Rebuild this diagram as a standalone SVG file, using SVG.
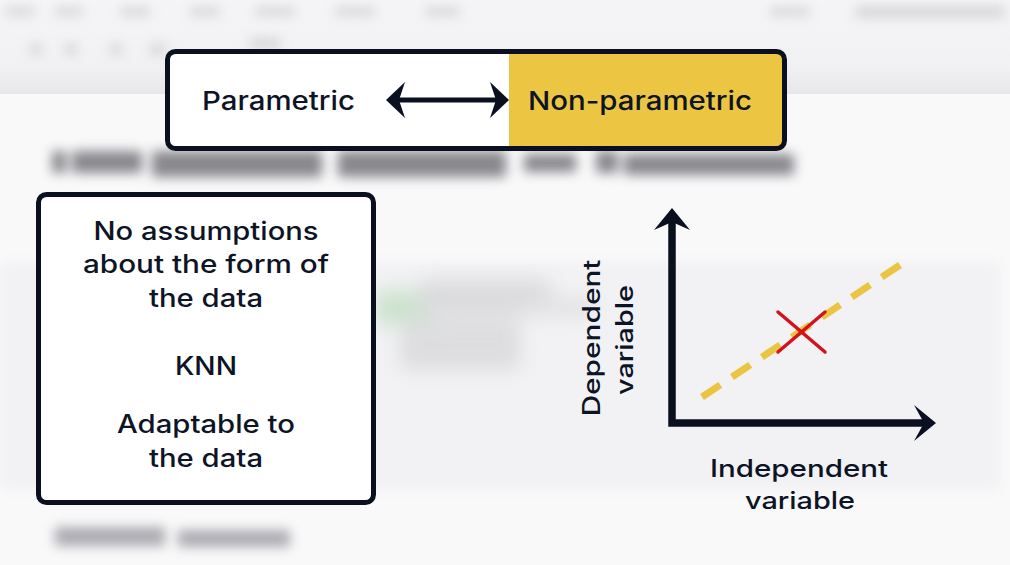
<svg xmlns="http://www.w3.org/2000/svg" width="1010" height="565" viewBox="0 0 1010 565">
  <defs>
    <filter id="soft" x="-20%" y="-80%" width="140%" height="260%">
      <feGaussianBlur stdDeviation="6"/>
    </filter>
    <filter id="softer" x="-30%" y="-60%" width="160%" height="220%">
      <feGaussianBlur stdDeviation="10"/>
    </filter>
    <linearGradient id="barShade" x1="0" y1="0" x2="0" y2="1">
      <stop offset="0" stop-color="#f5f5f7"/>
      <stop offset="0.7" stop-color="#f1f1f3"/>
      <stop offset="1" stop-color="#e7e7e9"/>
    </linearGradient>
    <clipPath id="topClip">
      <rect x="167.5" y="51.5" width="617" height="97" rx="8"/>
    </clipPath>
    <style>
      .lbl { font-family: Inter, "DejaVu Sans", sans-serif; font-weight: 500; fill: #0d1426; }
      .frame { fill: #ffffff; stroke: #0b1020; stroke-width: 5; }
      .ink { fill: #0b1020; }
      .axis { stroke: #0b1020; stroke-width: 7.5; fill: none; }
    </style>
  </defs>

  <!-- blurred notebook backdrop -->
  <g id="backdrop">
    <rect x="0" y="0" width="1010" height="565" fill="#f9f9fa"/>
    <rect x="0" y="0" width="1010" height="94" fill="url(#barShade)"/>
    <g filter="url(#soft)" fill="#cfcfd3" opacity="0.8">
      <rect x="5" y="7" width="30" height="9"/>
      <rect x="55" y="7" width="28" height="9"/>
      <rect x="120" y="7" width="30" height="9"/>
      <rect x="190" y="7" width="30" height="9"/>
      <rect x="255" y="7" width="40" height="9"/>
      <rect x="335" y="7" width="40" height="9"/>
      <rect x="425" y="7" width="35" height="9"/>
      <rect x="770" y="7" width="40" height="9"/>
      <rect x="855" y="6" width="150" height="12"/>
      <rect x="30" y="44" width="12" height="11"/>
      <rect x="65" y="44" width="12" height="11"/>
      <rect x="110" y="44" width="12" height="11"/>
      <rect x="150" y="44" width="16" height="11"/>
      <rect x="250" y="38" width="30" height="11"/>
    </g>
    <rect x="0" y="262" width="1000" height="228" fill="#f2f2f4" filter="url(#soft)"/>
    <g filter="url(#soft)" fill="#6c6c72" opacity="0.8">
      <rect x="52" y="151" width="14" height="22"/>
      <rect x="72" y="151" width="70" height="22"/>
      <rect x="152" y="151" width="170" height="26"/>
      <rect x="338" y="151" width="168" height="26"/>
      <rect x="524" y="154" width="52" height="18"/>
      <rect x="596" y="151" width="22" height="22"/>
      <rect x="624" y="154" width="170" height="21"/>
    </g>
    <g filter="url(#softer)" opacity="0.7">
      <rect x="375" y="290" width="60" height="35" fill="#bcdcbc"/>
      <rect x="420" y="280" width="130" height="35" fill="#d0d0d4"/>
      <rect x="400" y="320" width="120" height="50" fill="#d4d4d7"/>
      <rect x="520" y="298" width="75" height="18" fill="#d9d9dc"/>
    </g>
    <g filter="url(#soft)" fill="#9e9ea4" opacity="0.85">
      <rect x="55" y="527" width="110" height="19"/>
      <rect x="178" y="530" width="112" height="17"/>
    </g>
  </g>

  <!-- top scale: parametric vs non-parametric -->
  <g id="scale">
    <rect x="167.5" y="51.5" width="617" height="97" rx="8" fill="#ffffff"/>
    <rect x="509" y="50" width="280" height="102" fill="#ecc643" clip-path="url(#topClip)"/>
    <rect x="167.5" y="51.5" width="617" height="97" rx="8" fill="none" stroke="#0b1020" stroke-width="5"/>
    <text class="lbl" x="278.5" y="110" font-size="26" text-anchor="middle" textLength="153" lengthAdjust="spacingAndGlyphs">Parametric</text>
    <text class="lbl" x="640" y="110" font-size="26" text-anchor="middle" textLength="224" lengthAdjust="spacingAndGlyphs">Non-parametric</text>
  </g>

  <!-- connectors -->
  <g id="connectors">
    <line x1="396" y1="100" x2="499" y2="100" stroke="#0b1020" stroke-width="5"/>
    <polygon class="ink" points="386,100 405,82 399,100 405,118"/>
    <polygon class="ink" points="509,100 490,82 496,100 490,118"/>
  </g>

  <!-- non-parametric properties -->
  <g id="properties">
    <rect class="frame" x="38.5" y="194.5" width="335" height="308" rx="8"/>
    <text class="lbl" x="206" y="240" font-size="25" text-anchor="middle" textLength="225" lengthAdjust="spacingAndGlyphs">No assumptions</text>
    <text class="lbl" x="206" y="273" font-size="25" text-anchor="middle" textLength="246" lengthAdjust="spacingAndGlyphs">about the form of</text>
    <text class="lbl" x="206" y="307" font-size="25" text-anchor="middle" textLength="114" lengthAdjust="spacingAndGlyphs">the data</text>
    <text class="lbl" x="206" y="375" font-size="25" text-anchor="middle" textLength="62" lengthAdjust="spacingAndGlyphs">KNN</text>
    <text class="lbl" x="206" y="433" font-size="25" text-anchor="middle" textLength="178" lengthAdjust="spacingAndGlyphs">Adaptable to</text>
    <text class="lbl" x="206" y="467" font-size="25" text-anchor="middle" textLength="114" lengthAdjust="spacingAndGlyphs">the data</text>
  </g>

  <!-- regression sketch -->
  <g id="plot">
    <line x1="702" y1="397" x2="900" y2="265" stroke="#ebc443" stroke-width="7" stroke-dasharray="22 14"/>
    <line x1="778" y1="312" x2="825" y2="352" stroke="#d3131b" stroke-width="3.5" stroke-linecap="round"/>
    <line x1="778" y1="352" x2="825" y2="312" stroke="#d3131b" stroke-width="3.5" stroke-linecap="round"/>
    <path class="axis" d="M672,220 V423 H925"/>
    <polygon class="ink" points="672,208 690,230 672,222 654,230"/>
    <polygon class="ink" points="936,423 914,405 924,423 914,441"/>
    <text class="lbl" transform="translate(600,338) rotate(-90)" font-size="24" text-anchor="middle" textLength="157" lengthAdjust="spacingAndGlyphs">Dependent</text>
    <text class="lbl" transform="translate(633,340) rotate(-90)" font-size="24" text-anchor="middle" textLength="110" lengthAdjust="spacingAndGlyphs">variable</text>
    <text class="lbl" x="799" y="477" font-size="24" text-anchor="middle" textLength="178" lengthAdjust="spacingAndGlyphs">Independent</text>
    <text class="lbl" x="800" y="509" font-size="24" text-anchor="middle" textLength="110" lengthAdjust="spacingAndGlyphs">variable</text>
  </g>
</svg>
